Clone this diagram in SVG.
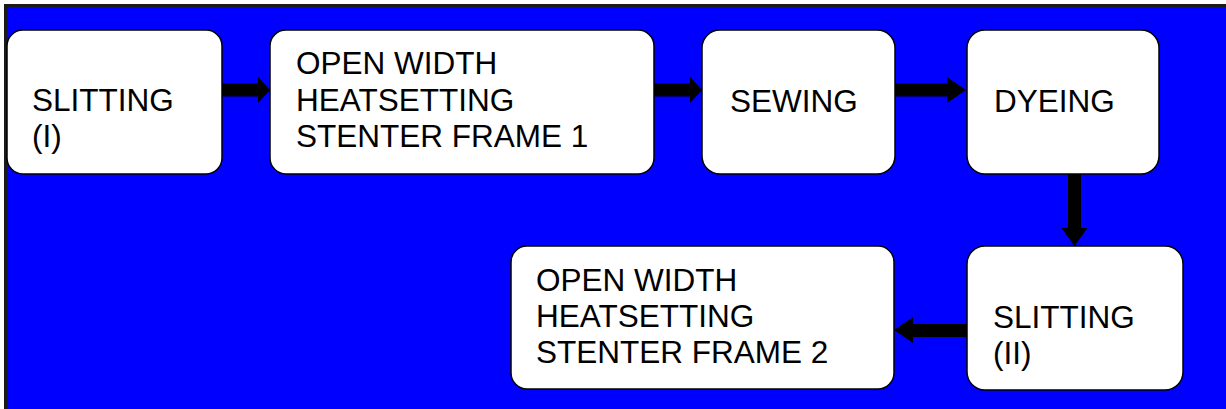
<svg xmlns="http://www.w3.org/2000/svg" width="1226" height="409" viewBox="0 0 1226 409">
<style>
.node{fill:#fff;stroke:#000;stroke-width:1.5}
.t{font-family:"Liberation Sans",Arial,sans-serif;font-size:31.5px;fill:#000}
.c{fill:#000}
</style>
<rect x="5.5" y="5.5" width="1230" height="410" fill="#0000ff" stroke="#1a1a1a" stroke-width="3"/>
<g id="n1"><rect class="node" x="7" y="30" width="215" height="144" rx="16"/>
<text class="t" x="32" y="111">SLITTING</text><text class="t" x="32" y="147">(I)</text></g>
<g id="n2"><rect class="node" x="270" y="30" width="384" height="144" rx="16"/>
<text class="t" x="296" y="74">OPEN WIDTH</text><text class="t" x="296" y="111">HEATSETTING</text><text class="t" x="296" y="147">STENTER FRAME 1</text></g>
<g id="n3"><rect class="node" x="702" y="30" width="193" height="144" rx="18"/>
<text class="t" x="730" y="112">SEWING</text></g>
<g id="n4"><rect class="node" x="967" y="30" width="192" height="144" rx="18"/>
<text class="t" x="994" y="112">DYEING</text></g>
<g id="n5"><rect class="node" x="967" y="246" width="216" height="144" rx="18"/>
<text class="t" x="993" y="328">SLITTING</text><text class="t" x="993" y="364">(II)</text></g>
<g id="n6"><rect class="node" x="511" y="246" width="383" height="143" rx="16"/>
<text class="t" x="536" y="291">OPEN WIDTH</text><text class="t" x="536" y="327">HEATSETTING</text><text class="t" x="536" y="363">STENTER FRAME 2</text></g>
<g id="connectors">
<polygon class="c" points="222,83.5 258,83.5 258,77 270,90 258,103 258,96.5 222,96.5"/>
<polygon class="c" points="654,83.5 690,83.5 690,77 702,90 690,103 690,96.5 654,96.5"/>
<polygon class="c" points="895,83.5 947,83.5 947,77 966,90 947,103 947,96.5 895,96.5"/>
<polygon class="c" points="1068,174 1081,174 1081,228 1087.5,228 1074.5,246 1061.5,228 1068,228"/>
<polygon class="c" points="967,324 913,324 913,317 894,330 913,343 913,337 967,337"/>
</g>
</svg>
